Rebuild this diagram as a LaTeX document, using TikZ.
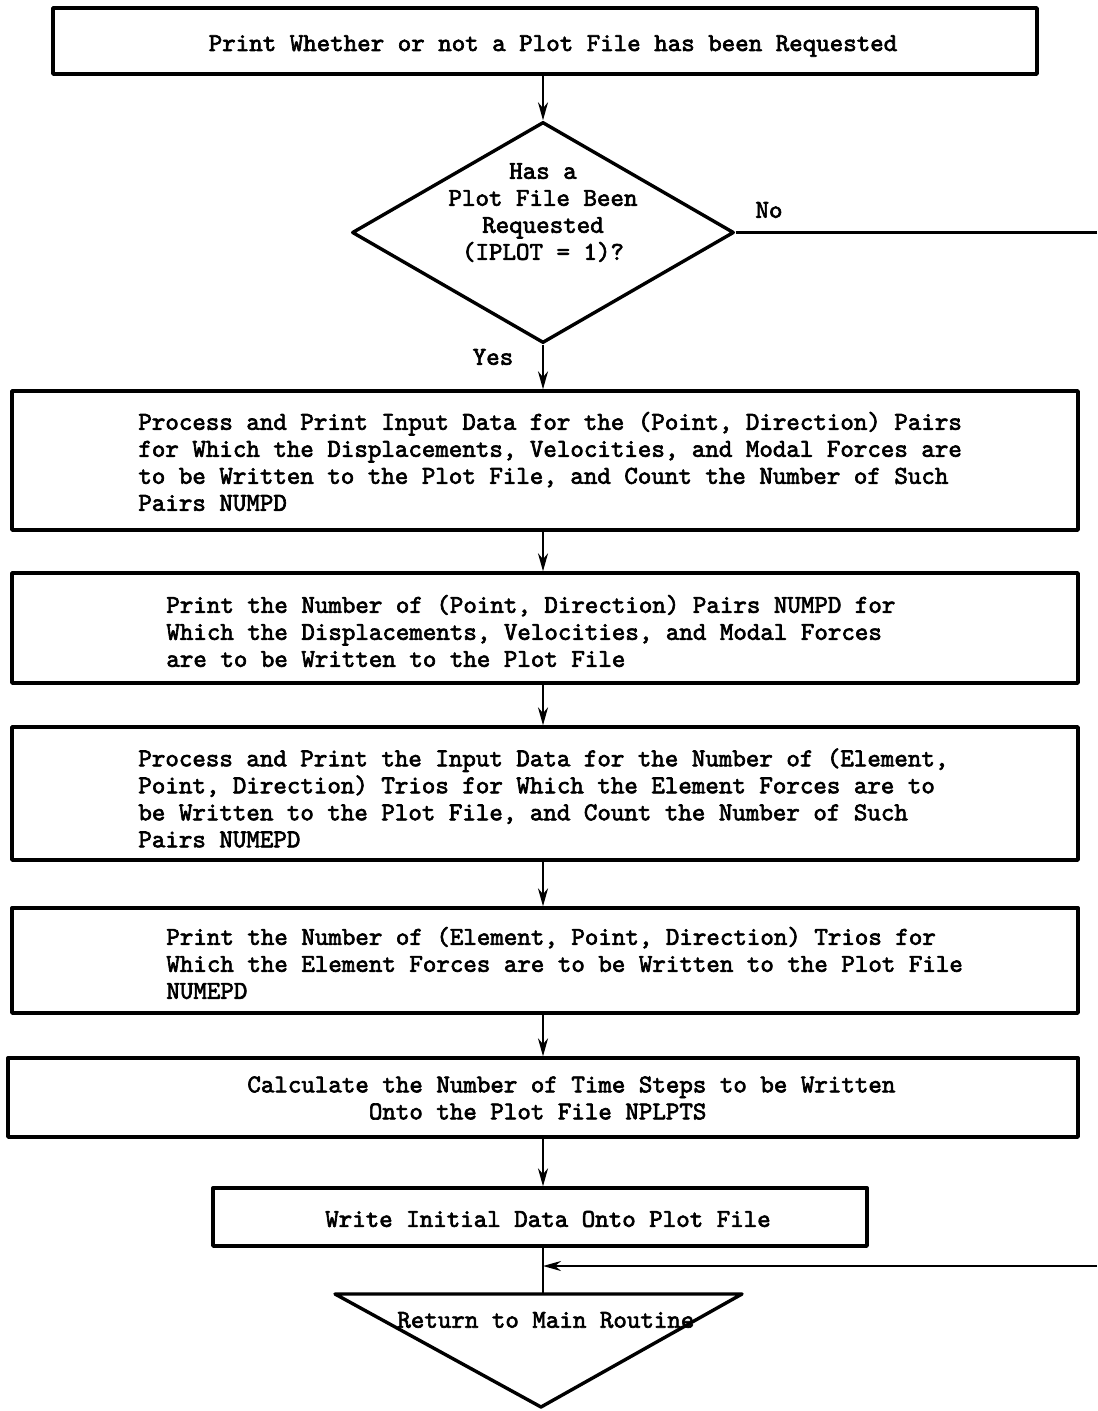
\documentclass[tikz,border=0pt]{standalone}
\usepackage{fontspec}
\newfontfamily\tw[FakeBold=2.5]{lmmono10-regular.otf}
\usetikzlibrary{shapes.geometric,arrows.meta}
\begin{document}
\begin{tikzpicture}[x=0.5pt,y=-0.5pt,
  shp/.style={draw, line width=1.7pt, line join=round},
  box/.style={shp, rectangle, inner sep=0pt},
  txt/.style={font=\tw\fontsize{12.857}{13.5}\selectfont, inner sep=0pt, align=left},
  conn/.style={line width=1.1pt, -{Stealth[length=9pt,width=5pt]}},
  plain/.style={line width=1.1pt},
]
\useasboundingbox (0,0) rectangle (1097,1411);
\fill[white] (0,0) rectangle (1097,1411);

% shapes
\node[box, minimum width=492pt, minimum height=33pt] (b1) at (545,41) {};
\node[shp, diamond, inner sep=0pt, minimum width=191pt, minimum height=110.5pt] (d) at (543,232.5) {};
\node[box, minimum width=533pt, minimum height=69.5pt] (b2) at (545,460.5) {};
\node[box, minimum width=533pt, minimum height=55pt] (b3) at (545,628) {};
\node[box, minimum width=533pt, minimum height=66.5pt] (b4) at (545,793.5) {};
\node[box, minimum width=533pt, minimum height=52.5pt] (b5) at (545,960.5) {};
\node[box, minimum width=535pt, minimum height=39.5pt] (b6) at (543,1097.5) {};
\node[box, minimum width=327pt, minimum height=29pt] (b7) at (540,1217) {};
\coordinate (ttl) at (335,1294);
\coordinate (ttr) at (742,1294);
\coordinate (tb) at (541,1407);
\draw[shp] (ttl) -- (ttr) -- (tb) -- cycle;

% texts
\node[txt] (t1) at (553,46) {Print Whether or not a Plot File has been Requested};
\node[txt, align=center] (dt) at (543,212.5) {Has a\\Plot File Been\\Requested\\(IPLOT = 1)?};
\node[txt] (no) at (769,210) {No};
\node[txt] (yes) at (493,357) {Yes};
\node[txt, anchor=west] (t2) at (138,461.5) {Process and Print Input Data for the (Point, Direction) Pairs\\for Which the Displacements, Velocities, and Modal Forces are\\to be Written to the Plot File, and Count the Number of Such\\Pairs NUMPD};
\node[txt, anchor=west] (t3) at (166,631) {Print the Number of (Point, Direction) Pairs NUMPD for\\Which the Displacements, Velocities, and Modal Forces\\are to be Written to the Plot File};
\node[txt, anchor=west] (t4) at (138,798) {Process and Print the Input Data for the Number of (Element,\\Point, Direction) Trios for Which the Element Forces are to\\be Written to the Plot File, and Count the Number of Such\\Pairs NUMEPD};
\node[txt, anchor=west] (t5) at (166,963) {Print the Number of (Element, Point, Direction) Trios for\\Which the Element Forces are to be Written to the Plot File\\NUMEPD};
\node[txt, anchor=west] (t6) at (247,1098) {Calculate the Number of Time Steps to be Written\\\phantom{xxxxxxxxx}Onto the Plot File NPLPTS};
\node[txt] (t7) at (548,1219) {Write Initial Data Onto Plot File};
\node[txt, anchor=west] (t8) at (397,1320) {Return to Main Routine};

% connectors
\draw[conn] (b1.south -| d.north) -- (d.north);
\draw[conn] (d.south) -- (d.south |- b2.north);
\draw[conn] (b2.south -| d.south) -- (d.south |- b3.north);
\draw[conn] (b3.south -| d.south) -- (d.south |- b4.north);
\draw[conn] (b4.south -| d.south) -- (d.south |- b5.north);
\draw[conn] (b5.south -| d.south) -- (d.south |- b6.north);
\draw[conn] (b6.south -| d.south) -- (d.south |- b7.north);
\draw[plain] (b7.south -| d.south) -- (d.south |- ttl);
\coordinate (noend) at (1097,232.5);
\draw[plain] (d.east) -- (noend);
\coordinate (retstart) at (1097,1266);
\coordinate (join) at (d.south |- retstart);
\draw[conn] (retstart) -- (join);
\end{tikzpicture}
\end{document}
